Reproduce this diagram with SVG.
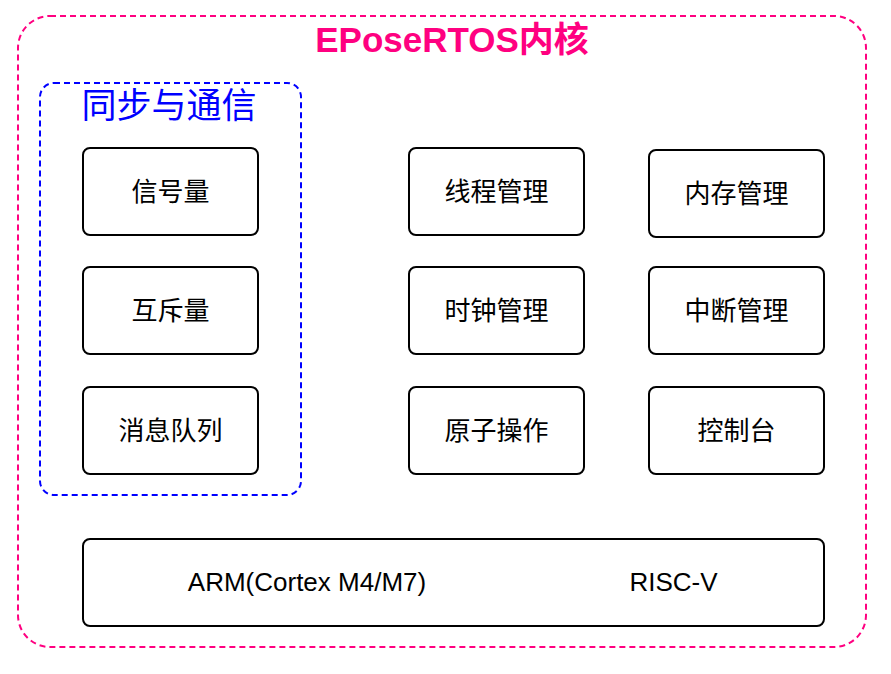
<svg xmlns="http://www.w3.org/2000/svg" width="891" height="674" viewBox="0 0 891 674">
<style>
.node rect{fill:#fff;stroke:#000;stroke-width:2}
.node text{font-family:"Noto Sans CJK SC","Liberation Sans",sans-serif;font-size:26px;fill:#000;text-anchor:middle;dominant-baseline:central}
.node text.lat{font-family:"Liberation Sans",Arial,sans-serif;font-size:26px}
</style>
<rect width="891" height="674" fill="#fff"/>
<g id="kernel">
<rect x="18" y="16" width="848" height="631" rx="32" fill="none" stroke="#FF0080" stroke-width="2" stroke-dasharray="6 4"/>
<text x="452" y="52" text-anchor="middle" font-family="Liberation Sans,Noto Sans CJK SC,sans-serif" font-weight="bold" font-size="35" fill="#FF0080">EPoseRTOS内核</text>
</g>
<g id="sync">
<rect x="40" y="83" width="261" height="412" rx="14" fill="none" stroke="#0000FF" stroke-width="2" stroke-dasharray="6 4"/>
<text x="169" y="118" text-anchor="middle" font-family="Noto Sans CJK SC,sans-serif" font-size="35" fill="#0000FF">同步与通信</text>
</g>
<g id="n1" class="node"><rect x="83" y="148" width="175" height="87" rx="7"/><text x="170.5" y="189">信号量</text></g>
<g id="n2" class="node"><rect x="83" y="267" width="175" height="87" rx="7"/><text x="170.5" y="308">互斥量</text></g>
<g id="n3" class="node"><rect x="83" y="387" width="175" height="87" rx="7"/><text x="170.5" y="428">消息队列</text></g>
<g id="n4" class="node"><rect x="409" y="148" width="175" height="87" rx="7"/><text x="496.5" y="189">线程管理</text></g>
<g id="n5" class="node"><rect x="409" y="267" width="175" height="87" rx="7"/><text x="496.5" y="308">时钟管理</text></g>
<g id="n6" class="node"><rect x="409" y="387" width="175" height="87" rx="7"/><text x="496.5" y="428">原子操作</text></g>
<g id="n7" class="node"><rect x="649" y="150" width="175" height="87" rx="7"/><text x="736.5" y="191">内存管理</text></g>
<g id="n8" class="node"><rect x="649" y="267" width="175" height="87" rx="7"/><text x="736.5" y="308">中断管理</text></g>
<g id="n9" class="node"><rect x="649" y="387" width="175" height="87" rx="7"/><text x="736.5" y="428">控制台</text></g>
<g id="arch" class="node"><rect x="83" y="539" width="741" height="87" rx="7"/>
<text class="lat" x="307" y="582">ARM(Cortex M4/M7)</text>
<text class="lat" x="673.5" y="582">RISC-V</text></g>
<g id="connectors"></g>
</svg>
